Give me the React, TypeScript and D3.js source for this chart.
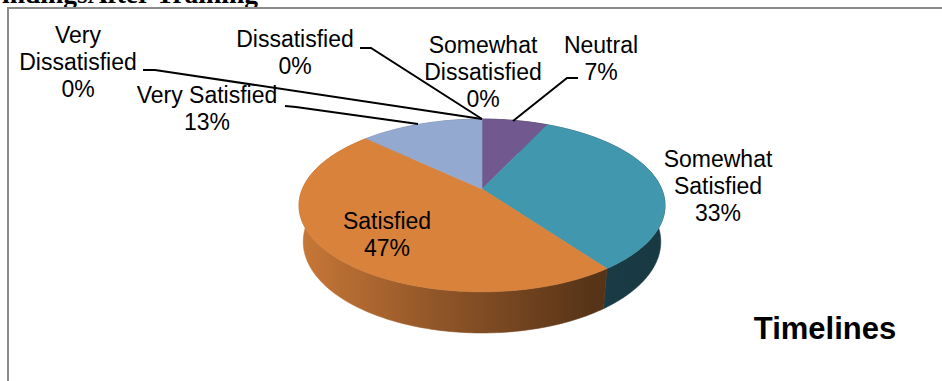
import React from "react";
import * as d3 from "d3";

// Survey responses (percent of respondents)
const categories = [
  "Very Dissatisfied",
  "Dissatisfied",
  "Somewhat Dissatisfied",
  "Neutral",
  "Somewhat Satisfied",
  "Satisfied",
  "Very Satisfied",
];
const values = [0, 0, 0, 7, 33, 47, 13];
const sliceColors = ["#4f81bd", "#c0504d", "#9bbb59", "#71588f", "#4197ae", "#d9823c", "#93a9cf"];

// Label block per slice: text lines, centre x, first baseline
const labelLines = [
  ["Very", "Dissatisfied"],
  ["Dissatisfied"],
  ["Somewhat", "Dissatisfied"],
  ["Neutral"],
  ["Somewhat", "Satisfied"],
  ["Satisfied"],
  ["Very Satisfied"],
];
const labelPos: [number, number][] = [
  [78, 43],
  [295, 47],
  [483, 53],
  [601, 53],
  [718, 167],
  [387, 229],
  [207, 103],
];
// Leader lines (label end -> elbow -> pie)
const leaders: [number, number][][] = [
  [[143, 70], [155, 70], [482, 119]],
  [[360, 48], [371, 48], [482, 119]],
  [[285, 106], [296, 107], [418, 124]],
  [[578, 78], [567, 78], [513, 121]],
];

const W = 942;
const H = 381;

// Perspective camera for the tilted disc
const CX = 482;
const CY = 189;
const TILT = (27.6 * Math.PI) / 180;
const COS = Math.cos(TILT);
const SIN = Math.sin(TILT);
const FOCAL = 836.5;
const DIST = 4.656;
const THICK = 0.23;

function project(theta: number, r: number, yw: number): [number, number] {
  const x = r * Math.sin(theta);
  const z = r * Math.cos(theta);
  const yc = yw * COS + z * SIN;
  const zc = DIST + z * COS - yw * SIN;
  return [CX + (FOCAL * x) / zc, CY - (FOCAL * yc) / zc];
}

function shade(color: string, k: number) {
  const c = d3.rgb(color);
  return d3.rgb(c.r * k, c.g * k, c.b * k).formatHex();
}

export default function App() {
  const pie = d3
    .pie<number>()
    .sort(null)
    .value((d) => d)
    .startAngle(0)
    .endAngle(2 * Math.PI);
  const arcs = pie(values);
  const line = d3.line();

  const sample = (a0: number, a1: number) => {
    const n = Math.max(2, Math.ceil(((a1 - a0) * 180) / Math.PI));
    return d3.range(n + 1).map((i) => a0 + ((a1 - a0) * i) / n);
  };

  const [left] = project(-Math.PI / 2 - 0.19, 1, 0);
  const [right] = project(Math.PI / 2 + 0.19, 1, 0);

  return (
    <div style={{ position: "fixed", left: 0, top: 0 }}>
      <svg width={W} height={H} style={{ display: "block" }}>
        <defs>
          {arcs.map((a, i) => (
            <linearGradient
              key={i}
              id={`side${i}`}
              gradientUnits="userSpaceOnUse"
              x1={left}
              x2={right}
              y1={0}
              y2={0}
            >
              <stop offset="0" stopColor={shade(sliceColors[i], 0.92)} />
              <stop offset="0.35" stopColor={shade(sliceColors[i], 0.68)} />
              <stop offset="0.8" stopColor={shade(sliceColors[i], 0.4)} />
              <stop offset="1" stopColor={shade(sliceColors[i], 0.38)} />
            </linearGradient>
          ))}
        </defs>
        <rect width={W} height={H} fill="#fff" />

        <text
          x={258}
          y={3}
          textAnchor="end"
          fontFamily="'Liberation Serif', 'Times New Roman', serif"
          fontWeight="bold"
          fontSize={27.5}
          fill="#000"
        >
          FindingsAfter Training
        </text>

        {/* chart frame */}
        <line x1={8} y1={8} x2={W} y2={8} stroke="#8a8a8a" strokeWidth={2} />
        <line x1={8} y1={7} x2={8} y2={H} stroke="#8a8a8a" strokeWidth={2} />

        {/* outer wall of each slice */}
        {arcs.map((a, i) => {
          if (a.endAngle - a.startAngle <= 0) return null;
          const ts = sample(a.startAngle, a.endAngle);
          const top = ts.map((t) => project(t, 1, 0));
          const bottom = ts
            .slice()
            .reverse()
            .map((t) => project(t, 1, -THICK));
          return (
            <path
              key={`w${i}`}
              d={line([...top, ...bottom])! + "Z"}
              fill={`url(#side${i})`}
              stroke={`url(#side${i})`}
              strokeWidth={0.6}
            />
          );
        })}

        {/* top faces */}
        {arcs.map((a, i) => {
          if (a.endAngle - a.startAngle <= 0) return null;
          const ts = sample(a.startAngle, a.endAngle);
          const pts: [number, number][] = [[CX, CY], ...ts.map((t) => project(t, 1, 0))];
          return (
            <path
              key={`t${i}`}
              d={line(pts)! + "Z"}
              fill={sliceColors[i]}
              stroke={sliceColors[i]}
              strokeWidth={0.6}
            />
          );
        })}

        {leaders.map((pts, i) => (
          <path key={`l${i}`} d={line(pts)!} fill="none" stroke="#000" strokeWidth={2} />
        ))}

        {arcs.map((a, i) => {
          const [x, y] = labelPos[i];
          const lines = [...labelLines[i], `${values[i]}%`];
          return (
            <text
              key={`lab${i}`}
              x={x}
              y={y}
              textAnchor="middle"
              fontFamily="'Liberation Sans', Arial, sans-serif"
              fontSize={23}
              fill="#000"
            >
              {lines.map((s, j) => (
                <tspan key={j} x={x} dy={j === 0 ? 0 : 27}>
                  {s}
                </tspan>
              ))}
            </text>
          );
        })}

        <text
          x={825}
          y={339}
          textAnchor="middle"
          fontFamily="'Liberation Sans', Arial, sans-serif"
          fontWeight="bold"
          fontSize={31}
          fill="#000"
        >
          Timelines
        </text>
      </svg>
    </div>
  );
}
